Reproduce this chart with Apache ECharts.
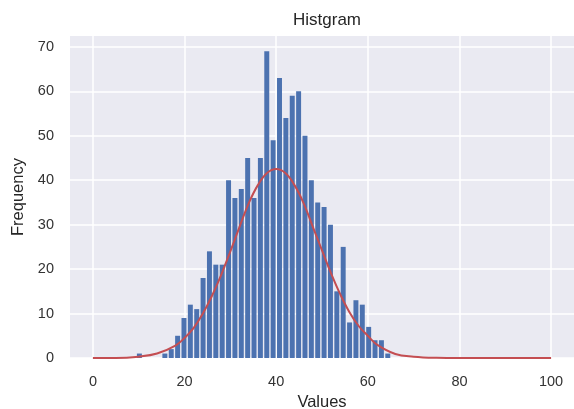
<!DOCTYPE html>
<html>
<head>
<meta charset="utf-8">
<script src="https://cdn.jsdelivr.net/npm/echarts@6/dist/echarts.min.js"></script>
<style>
  html, body { margin: 0; padding: 0; background: #fff; }
  #chart { width: 574px; height: 409px; }
</style>
</head>
<body>
<div id="chart"></div>
<script>
// histogram bins
const binStart = 9.45;
const binWidth = 1.39;
const binCounts = [1, 0, 0, 0, 1, 2, 5, 9, 12, 11, 18, 24, 21, 21, 40, 36, 38, 45, 36, 45,
    69, 49, 63, 54, 59, 60, 50, 40, 35, 34, 30, 15, 25, 8, 13, 12, 7, 4, 4, 1];

// fitted curve, points
const curveX = [0, 5, 10, 14, 18, 20, 22, 24, 26, 28, 30, 32, 34, 36, 38, 40, 42, 44, 46, 48,
    50, 52, 54, 56, 58, 60, 62, 66, 70, 75, 80, 90, 100];
const curveY = [0, 0, 0.3, 1.0, 2.8, 4.5, 6.8, 10.0, 14.0, 18.7, 24.0, 29.5, 34.8, 38.9, 41.6, 42.5,
    41.6, 38.9, 34.8, 29.5, 24.2, 19.0, 14.3, 10.3, 7.2, 5.0, 3.0, 0.9, 0.3, 0.05, 0, 0, 0];

const xTicks = [0, 20, 40, 60, 80, 100];
const yTicks = [0, 10, 20, 30, 40, 50, 60, 70];

const chart = echarts.init(document.getElementById('chart'));

const barData = binCounts.map((c, i) => [binStart + i * binWidth, binStart + (i + 1) * binWidth, c]);
const lineData = curveX.map((x, i) => [x, curveY[i]]);

const textColor = '#333';
const font = 'Liberation Sans, Arial, sans-serif';

chart.setOption({
    animation: false,
    backgroundColor: '#fff',
    title: {
        text: 'Histgram',
        left: 322,
        textAlign: 'center',
        top: 7,
        textStyle: { fontSize: 17, fontWeight: 'normal', color: '#262626', fontFamily: font }
    },
    grid: {
        left: 70, right: 0, top: 36, bottom: 51,
        outerBoundsMode: 'none',
        containLabel: false,
        show: true, backgroundColor: '#EAEAF2', borderWidth: 0
    },
    xAxis: {
        type: 'value',
        min: -5,
        max: 105,
        name: 'Values',
        nameLocation: 'middle',
        nameGap: 34,
        nameTextStyle: { fontSize: 16.5, color: '#262626', fontFamily: font },
        axisLine: { show: false },
        axisTick: { show: false, customValues: xTicks },
        axisLabel: { customValues: xTicks, margin: 16, fontSize: 14.5, color: textColor, fontFamily: font },
        splitLine: { show: true, lineStyle: { color: '#fff', width: 1.5 } }
    },
    yAxis: {
        type: 'value',
        min: 0,
        max: 72.45,
        name: 'Frequency',
        nameLocation: 'middle',
        nameGap: 43,
        nameTextStyle: { fontSize: 16.5, color: '#262626', fontFamily: font },
        axisLine: { show: false },
        axisTick: { show: false, customValues: yTicks },
        axisLabel: { customValues: yTicks, margin: 16, fontSize: 14.5, color: textColor, fontFamily: font },
        splitLine: { show: true, lineStyle: { color: '#fff', width: 1.5 } }
    },
    series: [
        {
            type: 'custom',
            data: barData,
            encode: { x: [0, 1], y: 2 },
            renderItem: function (params, api) {
                const top = api.coord([api.value(0), api.value(2)]);
                const bottom = api.coord([api.value(1), 0]);
                return {
                    type: 'rect',
                    shape: {
                        x: top[0] + 0.7,
                        y: top[1],
                        width: bottom[0] - top[0] - 1.4,
                        height: bottom[1] - top[1]
                    },
                    style: { fill: '#4C72B0' }
                };
            },
            z: 2
        },
        {
            type: 'line',
            data: lineData,
            smooth: 0.4,
            showSymbol: false,
            lineStyle: { color: '#C44E52', width: 2 },
            z: 3
        }
    ]
});
</script>
</body>
</html>
